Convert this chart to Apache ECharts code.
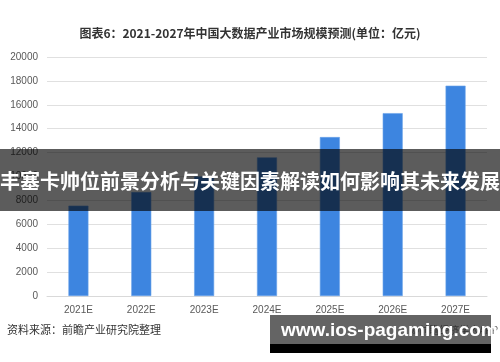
<!DOCTYPE html>
<html><head><meta charset="utf-8">
<script src="https://cdn.jsdelivr.net/npm/echarts@6/dist/echarts.min.js"></script>
<style>html,body{margin:0;padding:0;background:#fff}#c{width:500px;height:362px}</style>
</head><body><div id="c"></div>
<script>
const categories = ['2021E','2022E','2023E','2024E','2025E','2026E','2027E'];
const marketSize = [7560, 8700, 10000, 11600, 13300, 15300, 17600];
const yTicks = {min: 0, max: 20000, interval: 2000};
const titleText = '图表6：2021-2027年中国大数据产业市场规模预测(单位：亿元)';
const sourceText = '资料来源：前瞻产业研究院整理';
const bannerText = '丰塞卡帅位前景分析与关键因素解读如何影响其未来发展';
const siteText = 'www.ios-pagaming.com';
const brandText = '©前瞻经济学人APP';

const font = '"Noto Sans CJK SC", "Noto Sans", sans-serif';
const chart = echarts.init(document.getElementById('c'));
chart.setOption({
  animation: false,
  backgroundColor: '#fff',
  title: {
    text: titleText, left: 'center', top: 22,
    textStyle: {fontSize: 12, fontWeight: 'bold', color: '#333', fontFamily: font}
  },
  grid: {left: 47, right: 13, top: 57, bottom: 66},
  xAxis: {
    type: 'category', data: categories,
    axisLine: {lineStyle: {color: '#d9d9d9'}},
    axisTick: {show: false},
    axisLabel: {color: '#595959', fontSize: 10, margin: 9, fontFamily: 'Liberation Sans, sans-serif'}
  },
  yAxis: {
    type: 'value', min: yTicks.min, max: yTicks.max, interval: yTicks.interval,
    axisLine: {show: false}, axisTick: {show: false},
    splitLine: {lineStyle: {color: '#e0e0e0'}},
    axisLabel: {color: '#595959', fontSize: 10, margin: 9, fontFamily: 'Liberation Sans, sans-serif',
      formatter: v => String(v)}
  },
  series: [{
    type: 'bar', data: marketSize, barWidth: 20,
    itemStyle: {color: '#3d85e0', borderColor: '#6aa3ea', borderWidth: 0.6}
  }],
  graphic: [
    {type: 'text', left: 7, top: 324, z: 50,
     style: {text: sourceText, fontSize: 11, fill: '#333', fontFamily: font}},
    {type: 'text', right: 2, top: 325, z: 50,
     style: {text: brandText, fontSize: 10, fill: '#555', fontFamily: font}},
    {type: 'rect', shape: {x: 0, y: 149, width: 500, height: 62}, z: 100,
     style: {fill: 'rgba(0,0,0,0.64)'}},
    {type: 'text', z: 101, left: 'center', top: 171,
     style: {text: bannerText, fontSize: 20, fontWeight: 'bold', fill: '#fff', fontFamily: font}},
    {type: 'rect', shape: {x: 270, y: 315, width: 221, height: 29}, z: 100,
     style: {fill: 'rgba(40,40,40,0.72)'}},
    {type: 'rect', shape: {x: 270, y: 344, width: 221, height: 9}, z: 100,
     style: {fill: '#000'}},
    {type: 'text', z: 101, left: 281, top: 321,
     style: {text: siteText, fontSize: 19, fontWeight: 'bold', fill: '#fff', fontFamily: '"Liberation Sans", sans-serif'}}
  ]
});
</script></body></html>
